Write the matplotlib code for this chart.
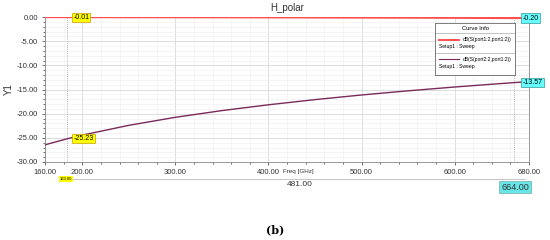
import numpy as np
import matplotlib.pyplot as plt
from matplotlib.ticker import MultipleLocator

plt.rcParams['font.family'] = ['Liberation Sans', 'DejaVu Sans']

# ======================================
# Data
# ======================================

freq = [160, 183, 200, 250, 300, 350, 400, 450, 500, 550, 600, 650, 664, 680]

s11 = [0.00, -0.01, -0.01, -0.02, -0.03, -0.04, -0.06, -0.08, -0.10,
       -0.12, -0.15, -0.19, -0.20, -0.21]

s21 = [-26.44, -25.23, -24.43, -22.41, -20.75, -19.36, -18.16, -17.09,
       -16.13, -15.27, -14.48, -13.76, -13.57, -13.36]

marker_left = 183
marker_right = 664

# ======================================
# Figure
# ======================================

fig = plt.figure(figsize=(5.5, 2.4), dpi=100)
ax = fig.add_axes([0.082, 0.325, 0.880, 0.604])

ax.plot(freq, s11, color="#ff5050", lw=1.6, zorder=3)
ax.plot(freq, s21, color="#7a2a5a", lw=1.0, zorder=3)

ax.set_xlim(160, 680)
ax.set_ylim(-30, 0)

ax.set_xticks([160, 200, 300, 400, 500, 600, 680])
ax.set_xticklabels(["160.00", "200.00", "300.00", "400.00",
                    "500.00", "600.00", "680.00"])
ax.xaxis.set_minor_locator(MultipleLocator(20))
ax.set_yticks(np.arange(-30, 1, 5))
ax.set_yticklabels([f"{v:.2f}" for v in np.arange(-30, 1, 5)])
ax.yaxis.set_minor_locator(MultipleLocator(1))

ax.tick_params(labelsize=5.5, colors="#333333", length=2, width=0.5, pad=3)
ax.tick_params(which="minor", length=1.2, width=0.4)

ax.grid(which="major", color="#d8d8d8", lw=0.6)
ax.grid(which="minor", color="#eeeeee", lw=0.4)

for side in ["left", "bottom", "right"]:
    ax.spines[side].set_color("#888888")
    ax.spines[side].set_linewidth(0.6)
ax.spines["top"].set_visible(False)

ax.set_ylabel("Y1", fontsize=7, color="#333333", labelpad=2)
ax.set_title("H_polar", fontsize=7, color="#333333", pad=4)

# marker lines
ax.axvline(marker_left, color="#999999", lw=0.6, ls=(0, (1, 1.5)), zorder=2)
ax.axvline(marker_right, color="#999999", lw=0.6, ls=(0, (1, 1.5)), zorder=2)

yel = dict(boxstyle="square,pad=0.15", fc="#ffff00", ec="#c8a000", lw=0.5)
cya = dict(boxstyle="square,pad=0.15", fc="#66ffff", ec="#339999", lw=0.5)

ax.annotate(f"{s11[1]:.2f}", (marker_left, s11[1]), xytext=(5, 0),
            textcoords="offset points", fontsize=5, va="center", bbox=yel,
            zorder=5)
ax.annotate(f"{s21[1]:.2f}", (marker_left, s21[1]), xytext=(5, 0),
            textcoords="offset points", fontsize=5, va="center", bbox=yel,
            zorder=5)
ax.annotate(f"{s11[12]:.2f}", (marker_right, s11[12]), xytext=(6, 0),
            textcoords="offset points", fontsize=5, va="center", bbox=cya,
            zorder=5, annotation_clip=False)
ax.annotate(f"{s21[12]:.2f}", (marker_right, s21[12]), xytext=(6, 0),
            textcoords="offset points", fontsize=5, va="center", bbox=cya,
            zorder=5, annotation_clip=False)

# legend box (Curve Info)
lg = ax.inset_axes([0.806, 0.60, 0.165, 0.36])
lg.set_xlim(0, 1)
lg.set_ylim(0, 1)
lg.set_xticks([])
lg.set_yticks([])
lg.set_zorder(6)
for s in lg.spines.values():
    s.set_color("#666666")
    s.set_linewidth(0.6)
lg.text(0.5, 0.9, "Curve Info", fontsize=4.2, ha="center", va="center")
lg.axhline(0.8, color="#aaaaaa", lw=0.5)
lg.plot([0.05, 0.3], [0.68, 0.68], color="#ff5050", lw=1.4)
lg.text(0.95, 0.68, "dB(S(port1:2,port1:2))", fontsize=3.6, ha="right", va="center")
lg.text(0.05, 0.55, "Setup1 : Sweep", fontsize=3.6, ha="left", va="center")
lg.axhline(0.42, color="#aaaaaa", lw=0.5)
lg.plot([0.05, 0.3], [0.3, 0.3], color="#7a2a5a", lw=0.8)
lg.text(0.95, 0.3, "dB(S(port2:2,port1:2))", fontsize=3.6, ha="right", va="center")
lg.text(0.05, 0.17, "Setup1 : Sweep", fontsize=3.6, ha="left", va="center")

# bottom marker labels
fig.text(298 / 550, 1 - 172 / 240, "Freq [GHz]", fontsize=4.5,
         ha="center", va="center", color="#333333")
fig.add_artist(plt.Line2D([70 / 550, 525 / 550], [1 - 179 / 240, 1 - 179 / 240],
                          color="#bbbbbb", lw=0.6))
fig.text(300 / 550, 1 - 184 / 240, "481.00", fontsize=6,
         ha="center", va="center", color="#333333")
fig.text(66 / 550, 1 - 179 / 240, f"{marker_left:.2f}", fontsize=3,
         ha="center", va="center",
         bbox=dict(boxstyle="square,pad=0.15", fc="#ffff00", ec="none"))
fig.text(515 / 550, 1 - 187 / 240, f"{marker_right:.2f}", fontsize=6.5,
         ha="center", va="center", color="#333333",
         bbox=dict(boxstyle="square,pad=0.2", fc="#66e6e6", ec="#7aa", lw=0.5))

fig.text(0.5, 1 - 230 / 240, "(b)", fontsize=8, fontweight="bold",
         family="DejaVu Serif", ha="center", va="center")

fig.savefig("out.png", dpi=100)
